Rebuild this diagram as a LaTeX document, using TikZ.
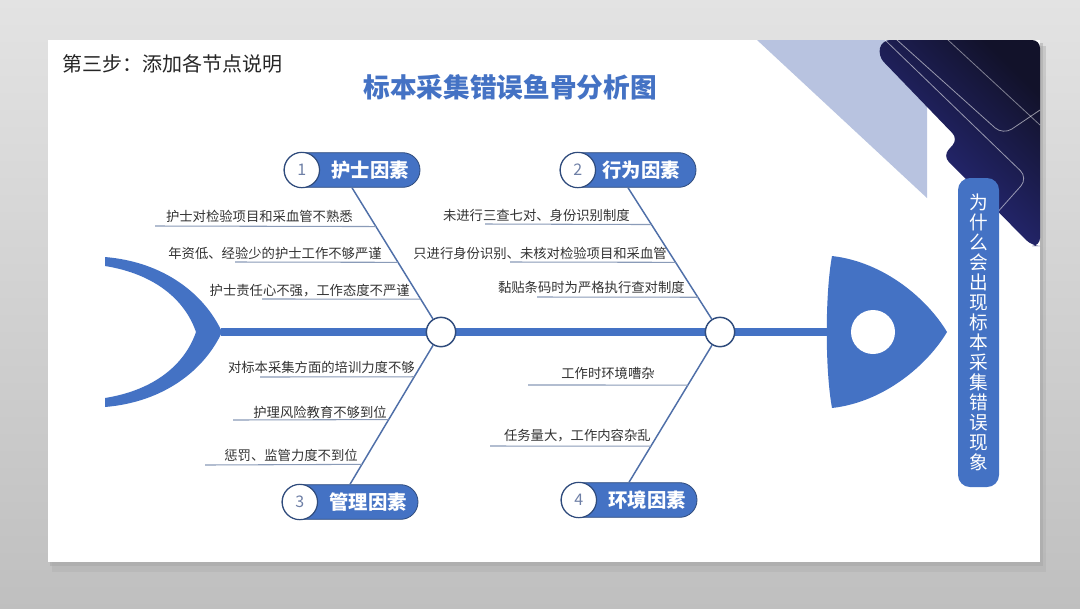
\documentclass[tikz,border=0pt]{standalone}
\usepackage{fontspec}
\newfontfamily\cjk{Noto Sans CJK SC}
\usetikzlibrary{calc,positioning}

\definecolor{fishblue}{HTML}{4472C4}
\definecolor{rimdark}{HTML}{2F4B7C}
\definecolor{numgray}{HTML}{6E7FA6}
\definecolor{ribblue}{HTML}{4F6FA8}
\definecolor{ulgray}{HTML}{8A9BB8}
\definecolor{textgray}{HTML}{333333}
\definecolor{triblue}{HTML}{B8C3E0}
\definecolor{navyA}{HTML}{2C2F8E}
\definecolor{navyB}{HTML}{12122A}

\tikzset{
  pill/.style={rectangle, rounded corners=13pt, fill=fishblue, draw=rimdark, line width=0.6pt,
    minimum width=102pt, minimum height=26pt, inner sep=0pt},
  num/.style={circle, fill=white, draw=rimdark, line width=0.9pt, minimum size=26.5pt,
    inner sep=0pt, text=numgray, font=\cjk\fontsize{12}{12}\selectfont},
  pilltext/.style={text=white, inner sep=0pt, font=\cjk\bfseries\fontsize{14.5}{15}\selectfont},
  joint/.style={circle, fill=white, draw=rimdark, line width=1.1pt, minimum size=22pt, inner sep=0pt},
  cause/.style={anchor=east, inner sep=0pt, text=textgray, font=\cjk\fontsize{10}{10}\selectfont},
  rib/.style={draw=ribblue, line width=1.1pt},
  uline/.style={draw=ulgray, line width=0.8pt}
}

\begin{document}
\begin{tikzpicture}[x=0.75pt, y=-0.75pt]
    \useasboundingbox (0,0) rectangle (1080,608);
    % backdrop and slide
    \shade[top color=black!11, bottom color=black!25] (0,0) rectangle (1080,608);
    \fill[black!30, opacity=0.5] (52,46) rectangle (1046,572);
    \fill[black!35, opacity=0.5] (50,43) rectangle (1043,566);
    \fill[white] (48,40) rectangle (1040,562);

    % corner decoration
    \fill[triblue] (757,40) -- (927,40) -- (927,198) -- cycle;
    \shade[top color=navyB, bottom color=navyA, shading angle=-45, rounded corners=6pt]
        (882,40) -- (1040,40) -- (1040,246) -- (1032,246) -- (943,156) -- (958,139) -- (878,56) -- cycle;
    \draw[white, opacity=0.55, line width=0.6pt, rounded corners=8pt]
        (885,40) -- (1028,178) -- (995,215);
    \draw[white, opacity=0.55, line width=0.6pt, rounded corners=8pt]
        (897,40) -- (1003,135) -- (1040,110);
    \draw[white, opacity=0.45, line width=0.6pt] (948,40) -- (1040,125);

    % headings
    \node[anchor=west, inner sep=0pt, text=black!85, font=\cjk\fontsize{15}{15}\selectfont] (step) at (62,64) {第三步：添加各节点说明};
    \node[text=fishblue, font=\cjk\bfseries\fontsize{20}{20}\selectfont] (title) at (510,87) {标本采集错误鱼骨分析图};

    % fish body
    \coordinate (tail) at (221,332);
    \coordinate (head) at (830,332);
    \fill[fishblue] (105,257) .. controls (165,262) and (205,295) .. (222,332)
        .. controls (205,369) and (165,402) .. (105,407) -- (105,398)
        .. controls (155,390) and (185,364) .. (196,332)
        .. controls (185,300) and (155,274) .. (105,266) -- cycle;
    \draw[fishblue, line width=6pt] (tail) -- (head);
    \fill[fishblue] (832,256) .. controls (885,262) and (928,300) .. (947,332)
        .. controls (928,364) and (885,402) .. (832,408)
        .. controls (825,370) and (825,294) .. cycle;
    \node[circle, fill=white, minimum size=33pt, inner sep=0pt] (eye) at (873,332) {};

    % category labels
    \node[pill] (p1) at (352,170) {};
    \node[pill] (p2) at (628,170) {};
    \node[pill] (p3) at (350,502) {};
    \node[pill] (p4) at (629,500) {};
    \node[num, anchor=west] (n1) at (p1.west) {1};
    \node[num, anchor=west] (n2) at (p2.west) {2};
    \node[num, anchor=west] (n3) at (p3.west) {3};
    \node[num, anchor=west] (n4) at (p4.west) {4};
    \node[pilltext] (t1) at ($(n1.east)!0.5!(p1.east)$) {护士因素};
    \node[pilltext] (t2) at ($(n2.east)!0.45!(p2.east)$) {行为因素};
    \node[pilltext] (t3) at ($(n3.east)!0.5!(p3.east)$) {管理因素};
    \node[pilltext] (t4) at ($(n4.east)!0.5!(p4.east)$) {环境因素};

    % joints on the spine and the ribs
    \node[joint] (j1) at (441,332) {};
    \node[joint] (j2) at (720,332) {};
    \draw[rib] (j1) -- (p1.south);
    \draw[rib] (j2) -- (p2.south);
    \draw[rib] (j1) -- (p3.north);
    \draw[rib] (j2) -- (p4.north);

    % nurse
    \coordinate (r11) at ($(j1)!.731!(p1.south)$);
    \coordinate (r12) at ($(j1)!.483!(p1.south)$);
    \coordinate (r13) at ($(j1)!.228!(p1.south)$);
    \coordinate (l11) at (155,226);
    \coordinate (l12) at (235,262);
    \coordinate (l13) at (262,299);
    \draw[uline] (r11) -- (l11);
    \draw[uline] (r12) -- (l12);
    \draw[uline] (r13) -- (l13);
    \node[cause] (c11) at (353,216) {护士对检验项目和采血管不熟悉};
    \node[cause] (c12) at (382,253) {年资低、经验少的护士工作不够严谨};
    \node[cause] (c13) at (410,291) {护士责任心不强，工作态度不严谨};

    % behaviour
    \coordinate (r21) at ($(j2)!.745!(p2.south)$);
    \coordinate (r22) at ($(j2)!.483!(p2.south)$);
    \coordinate (r23) at ($(j2)!.241!(p2.south)$);
    \coordinate (l21) at (485,224);
    \coordinate (l22) at (510,262);
    \coordinate (l23) at (537,297);
    \draw[uline] (r21) -- (l21);
    \draw[uline] (r22) -- (l22);
    \draw[uline] (r23) -- (l23);
    \node[cause] (c21) at (630,215) {未进行三查七对、身份识别制度};
    \node[cause] (c22) at (667,253) {只进行身份识别、未核对检验项目和采血管};
    \node[cause] (c23) at (685,287) {黏贴条码时为严格执行查对制度};

    % management
    \coordinate (r31) at ($(j1)!.294!(p3.north)$);
    \coordinate (r32) at ($(j1)!.575!(p3.north)$);
    \coordinate (r33) at ($(j1)!.869!(p3.north)$);
    \coordinate (l31) at (260,377);
    \coordinate (l32) at (233,420);
    \coordinate (l33) at (205,465);
    \draw[uline] (r31) -- (l31);
    \draw[uline] (r32) -- (l32);
    \draw[uline] (r33) -- (l33);
    \node[cause] (c31) at (415,367) {对标本采集方面的培训力度不够};
    \node[cause] (c32) at (387,412) {护理风险教育不够到位};
    \node[cause] (c33) at (358,455) {惩罚、监管力度不到位};

    % environment
    \coordinate (r41) at ($(j2)!.353!(p4.north)$);
    \coordinate (r42) at ($(j2)!.760!(p4.north)$);
    \coordinate (l41) at (528,385);
    \coordinate (l42) at (490,446);
    \draw[uline] (r41) -- (l41);
    \draw[uline] (r42) -- (l42);
    \node[cause] (c41) at (655,373) {工作时环境嘈杂};
    \node[cause] (c42) at (651,436) {任务量大，工作内容杂乱};

    % the problem itself
    \node[fill=fishblue, rounded corners=9pt, minimum width=30.75pt, minimum height=231.75pt,
        inner sep=0pt, text=white, align=center, font=\cjk\fontsize{14}{15}\selectfont] (why) at (978.5,332.5)
        {为\\什\\么\\会\\出\\现\\标\\本\\采\\集\\错\\误\\现\\象};
\end{tikzpicture}
\end{document}
